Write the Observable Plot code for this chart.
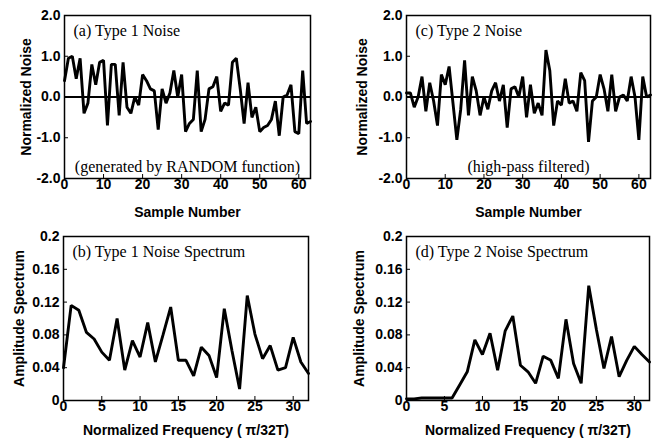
<!DOCTYPE html>
<html>
<head>
<meta charset="utf-8">
<script src="https://cdn.jsdelivr.net/npm/d3@7"></script>
<script src="https://cdn.jsdelivr.net/npm/@observablehq/plot@0.6"></script>
<style>
  html, body { margin: 0; padding: 0; background: #fff; }
  #grid { position: relative; width: 652px; height: 438px; }
  #grid > div { position: absolute; width: 326px; height: 219px; }
</style>
</head>
<body>
<div id="grid">
  <div id="pa" style="left:0;top:0"></div>
  <div id="pc" style="left:326px;top:0"></div>
  <div id="pb" style="left:0;top:219px"></div>
  <div id="pd" style="left:326px;top:219px"></div>
</div>
<script>
// Type 1 noise: 64 samples from the RANDOM function, normalized
const noise1 = [
  0.40, 0.95, 1.00, 0.45, 0.95, -0.40, -0.15, 0.80, 0.30, 0.85,
  0.90, -0.70, 0.80, 0.80, -0.45, 0.85, -0.25, -0.40, 0.00, -0.20,
  0.55, 0.40, 0.20, 0.15, -0.80, 0.20, -0.15, 0.10, 0.65, 0.00,
  0.55, -0.85, -0.65, -0.55, 0.65, -0.85, -0.55, 0.20, 0.25, 0.50,
  -0.35, -0.15, -0.20, 0.85, 0.95, 0.20, -0.65, 0.35, -0.50, -0.25,
  -0.85, -0.75, -0.70, -0.55, -0.10, -0.95, 0.00, 0.05, 0.30, -0.85,
  -0.90, 0.65, -0.65, -0.60
];
// Type 2 noise: high-pass filtered
const noise2 = [
  0.10, 0.10, -0.25, 0.00, 0.50, -0.35, 0.35, -0.10, -0.70, 0.55,
  0.30, 0.75, -0.15, -1.05, -0.30, 0.90, -0.45, 0.50, 0.15, -0.45,
  0.00, -0.30, 0.15, 0.35, -0.10, 0.30, -0.75, 0.20, 0.25, 0.00,
  0.50, -0.50, 0.30, -0.40, -0.15, -0.45, 1.15, 0.65, -0.70, -0.10,
  -0.20, 0.45, -0.15, -0.10, -0.35, 0.60, 0.40, -1.10, -0.10, 0.00,
  0.55, 0.20, -0.35, 0.55, -0.35, 0.00, 0.05, -0.10, 0.50, 0.00,
  -1.05, 0.50, 0.00, 0.05
];
// Amplitude spectra, frequency bins 0..32 (units of pi/32T)
const spectrum1 = [
  0.040, 0.116, 0.110, 0.083, 0.075, 0.059, 0.049, 0.100, 0.037, 0.073,
  0.053, 0.095, 0.047, 0.080, 0.114, 0.049, 0.049, 0.030, 0.065, 0.055,
  0.028, 0.112, 0.061, 0.014, 0.128, 0.081, 0.051, 0.067, 0.037, 0.040,
  0.077, 0.047, 0.033
];
const spectrum2 = [
  0.002, 0.002, 0.003, 0.003, 0.003, 0.003, 0.003, 0.019, 0.035, 0.074,
  0.056, 0.082, 0.037, 0.085, 0.103, 0.043, 0.035, 0.021, 0.054, 0.049,
  0.027, 0.099, 0.045, 0.021, 0.140, 0.087, 0.039, 0.078, 0.029, 0.049,
  0.066, 0.056, 0.047
];
const sampleTicks = [0, 10, 20, 30, 40, 50, 60];
const noiseTicks = [-2, -1, 0, 1, 2];
const freqTicks = [0, 5, 10, 15, 20, 25, 30];
const ampTicks = [0, 0.04, 0.08, 0.12, 0.16, 0.2];

const sans = "'Liberation Sans', Arial, Helvetica, sans-serif";
const serif = "'Liberation Serif', 'Times New Roman', serif";

function panel(o) {
  return Plot.plot({
    width: 326,
    height: 219,
    marginLeft: o.ml, marginRight: o.mr, marginTop: o.mt, marginBottom: o.mb,
    style: {fontFamily: sans, fontSize: "13px", background: "white", color: "black"},
    x: {domain: o.xDomain},
    y: {domain: o.yDomain},
    marks: [
      o.zero ? Plot.ruleY([0], {stroke: "black", strokeWidth: 1.8}) : null,
      Plot.line(o.data, {x: (d, i) => i, y: d => d, stroke: "black", strokeWidth: 2.9, strokeLinejoin: "miter"}),
      Plot.frame({stroke: "black", strokeWidth: 1.5}),
      Plot.axisX(o.xTicks, {tickSize: 0, tickPadding: 1, fontWeight: "bold", fontSize: 14,
        label: o.xLabel, labelAnchor: "center", labelArrow: "none", labelOffset: o.xLabelOffset}),
      Plot.axisX(o.xTicks, {tickSize: -4, tickFormat: () => "", label: null}),
      Plot.axisY(o.yTicks, {tickSize: 0, tickPadding: 4, fontWeight: "bold", fontSize: 14, tickFormat: o.yFmt,
        label: o.yLabel, labelAnchor: "center", labelArrow: "none", labelOffset: o.yLabelOffset}),
      Plot.axisY(o.yTicks, {tickSize: -4, tickFormat: () => "", label: null}),
      Plot.text([o.title], {frameAnchor: "top-left", dx: 9, dy: 9, lineAnchor: "top",
        fontFamily: serif, fontSize: 16, fill: "black"}),
      o.note ? Plot.text([o.note], {frameAnchor: "bottom", dy: -7, lineAnchor: "bottom",
        fontFamily: serif, fontSize: 16, fill: "black"}) : null
    ]
  });
}

const noiseFmt = d => d.toFixed(1);
const ampFmt = d => String(+d.toFixed(2));

document.getElementById("pa").append(panel({
  data: noise1, xDomain: [0, 63], yDomain: [-2, 2], xTicks: sampleTicks, yTicks: noiseTicks, yFmt: noiseFmt,
  xLabel: "Sample Number", yLabel: "Normalized Noise", zero: true,
  title: "(a) Type 1 Noise", note: "(generated by RANDOM function)",
  ml: 64, mr: 16, mt: 15, mb: 41, xLabelOffset: 38, yLabelOffset: 43
}));
document.getElementById("pc").append(panel({
  data: noise2, xDomain: [0, 63], yDomain: [-2, 2], xTicks: sampleTicks, yTicks: noiseTicks, yFmt: noiseFmt,
  xLabel: "Sample Number", yLabel: "Normalized Noise", zero: true,
  title: "(c) Type 2 Noise", note: "(high-pass filtered)",
  ml: 80, mr: 2, mt: 15, mb: 41, xLabelOffset: 38, yLabelOffset: 49
}));
document.getElementById("pb").append(panel({
  data: spectrum1, xDomain: [0, 32], yDomain: [0, 0.2], xTicks: freqTicks, yTicks: ampTicks, yFmt: ampFmt,
  xLabel: "Normalized Frequency ( \u03C0/32T)", yLabel: "Amplitude Spectrum", zero: false,
  title: "(b) Type 1 Noise Spectrum",
  ml: 63, mr: 18, mt: 17, mb: 38, xLabelOffset: 34, yLabelOffset: 49
}));
document.getElementById("pd").append(panel({
  data: spectrum2, xDomain: [0, 32], yDomain: [0, 0.2], xTicks: freqTicks, yTicks: ampTicks, yFmt: ampFmt,
  xLabel: "Normalized Frequency ( \u03C0/32T)", yLabel: "Amplitude Spectrum", zero: false,
  title: "(d) Type 2 Noise Spectrum",
  ml: 80, mr: 3, mt: 17, mb: 38, xLabelOffset: 34, yLabelOffset: 52
}));
</script>
</body>
</html>
